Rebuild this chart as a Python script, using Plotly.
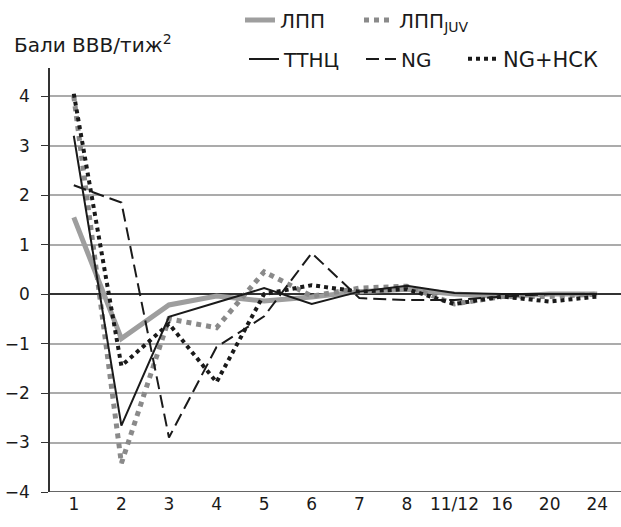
import plotly.graph_objects as go

categories = ["1", "2", "3", "4", "5", "6", "7", "8", "11/12", "16", "20", "24"]
lpp = [1.55, -0.9, -0.22, -0.04, -0.14, -0.06, 0.05, 0.1, 0.0, -0.05, 0.0, 0.0]
lpp_juv = [4.0, -3.42, -0.5, -0.68, 0.45, -0.04, 0.12, 0.16, -0.2, -0.05, -0.05, 0.0]
ttnc = [3.2, -2.66, -0.46, -0.17, 0.12, -0.2, 0.05, 0.17, 0.02, 0.0, 0.0, 0.0]
ng = [2.2, 1.85, -2.9, -1.07, -0.45, 0.83, -0.08, -0.12, -0.12, -0.05, 0.0, 0.0]
ng_nsk = [4.05, -1.45, -0.6, -1.78, 0.0, 0.18, 0.05, 0.1, -0.2, -0.05, -0.15, -0.05]
y_ticks = [-4, -3, -2, -1, 0, 1, 2, 3, 4]

FONT = "DejaVu Sans"
W, H = 621, 527

series = [
    ("ЛПП", lpp, dict(color="#9e9e9e", width=5), "legend", 240, 20),
    ("ЛПП<sub>JUV</sub>", lpp_juv, dict(color="#8a8a8a", width=5, dash="dot"), "legend2", 359, 20),
    ("ТТНЦ", ttnc, dict(color="#1a1a1a", width=2), "legend3", 244, 59),
    ("NG", ng, dict(color="#1a1a1a", width=2, dash="13px,6px"), "legend4", 361, 59),
    ("NG+НСК", ng_nsk, dict(color="#1a1a1a", width=4, dash="dot"), "legend5", 463, 59),
]

fig = go.Figure()
legends = {}
for name, vals, line, lg, lx, ly in series:
    fig.add_trace(go.Scatter(x=categories, y=vals, mode="lines", name=name, line=line, legend=lg))
    legends[lg] = dict(orientation="h", xref="container", yref="container",
                       x=lx / W, y=1 - ly / H, xanchor="left", yanchor="middle",
                       font=dict(size=20, family=FONT, color="#1a1a1a"),
                       bgcolor="rgba(0,0,0,0)")
legends["legend5"]["font"]["size"] = 21

fig.update_layout(
    width=W, height=H,
    margin=dict(l=50, r=0, t=68, b=35, autoexpand=False),
    plot_bgcolor="white", paper_bgcolor="white",
    font=dict(family=FONT, size=17, color="#1a1a1a"),
    showlegend=True,
    xaxis=dict(type="category", categoryorder="array", categoryarray=categories,
               range=[-0.5, 11.5], showgrid=False, showline=False, zeroline=False,
               ticks="", tickfont=dict(size=17)),
    yaxis=dict(range=[-4, 4.57], tickvals=y_ticks,
               ticktext=[("−" + str(abs(v))) if v < 0 else str(v) for v in y_ticks],
               showgrid=True, gridcolor="#ababab", gridwidth=1.5,
               zeroline=True, zerolinecolor="#333333", zerolinewidth=1.5,
               showline=True, linecolor="#333333", linewidth=1.5,
               ticks="outside", ticklen=7, tickcolor="#333333", tickfont=dict(size=17),
               ticklabelstandoff=8),
    shapes=[dict(type="line", xref="paper", yref="y", x0=0, x1=1, y0=-4, y1=-4,
                 line=dict(color="#333333", width=1.5))],
    annotations=[dict(text="Бали ВВВ/тиж<sup>2</sup>", xref="paper", yref="paper",
                      x=-38 / 571, y=(492 - 44) / 424, xanchor="left", yanchor="middle",
                      showarrow=False, font=dict(size=20))],
    **legends,
)
fig.write_html("out.html", config={"displayModeBar": False},
               post_script="document.body.style.margin='0';")
